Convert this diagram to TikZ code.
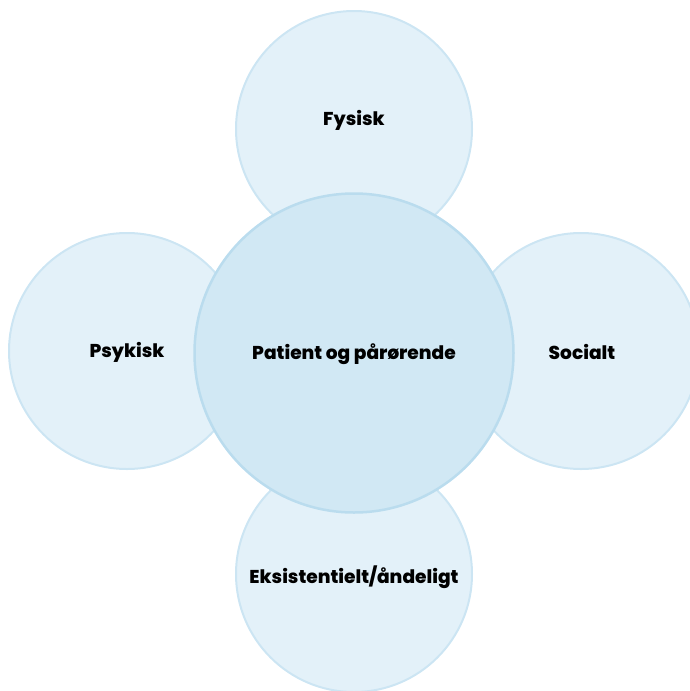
\documentclass[tikz,border=0pt]{standalone}
\usepackage{fontspec}
\setmainfont{Poppins}[BoldFont={Poppins ExtraBold}]
\usepackage{tikz}
\definecolor{ringfill}{HTML}{E3F1F9}
\definecolor{ringdraw}{HTML}{CCE5F3}
\definecolor{corefill}{HTML}{D1E8F4}
\definecolor{coredraw}{HTML}{BADCEE}
\tikzset{
		outer circle/.style={circle, draw=ringdraw, fill=ringfill, line width=2pt, minimum size=236pt, inner sep=0pt},
		core circle/.style={circle, draw=coredraw, fill=corefill, line width=2.5pt, minimum size=319pt, inner sep=0pt},
		area text/.style={font=\bfseries\fontsize{18.6}{22}\selectfont, text=black}
	}

\begin{document}
\begin{tikzpicture}[x=1pt, y=-1pt]
				\useasboundingbox (0,0) rectangle (690,691);
				\clip (0,0) rectangle (690,691);
				% the four areas around the middle
				\node[outer circle] (fysisk)   at (354,129) {};
				\node[outer circle] (psykisk)  at (127,351) {};
				\node[outer circle] (socialt)  at (581,351) {};
				\node[outer circle] (aandelig) at (354,574) {};
				% patient in the middle, on top
				\node[core circle]  (patient)  at (354,353) {};

				\node[area text] at ([yshift=9pt]fysisk)   {Fysisk};
				\node[area text] at ([yshift=-1pt]psykisk) {Psykisk};
				\node[area text] at ([shift={(1pt,-1pt)}]socialt) {Socialt};
				\node[area text] at ([yshift=-3pt]aandelig) {Eksistentielt/åndeligt};
				\node[area text] at ([yshift=-1pt]patient) {Patient og pårørende};
			\end{tikzpicture}
\end{document}
